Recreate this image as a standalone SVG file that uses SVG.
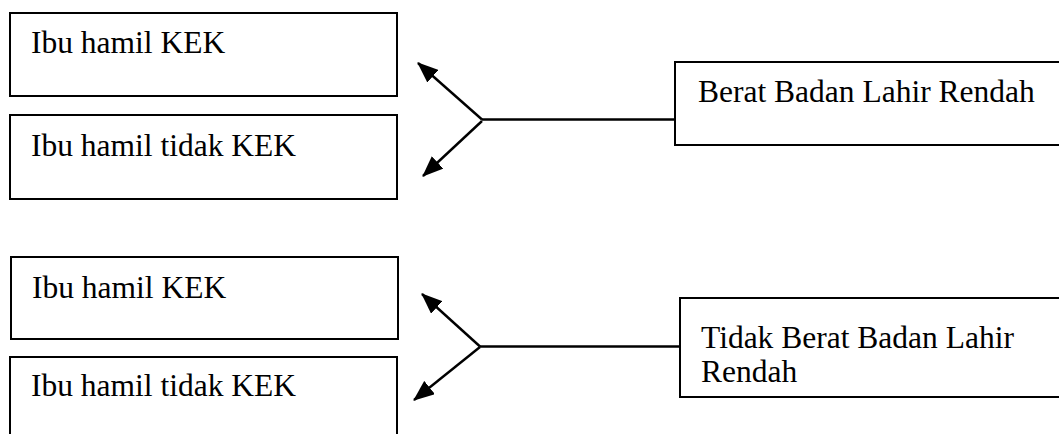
<svg xmlns="http://www.w3.org/2000/svg" width="1059" height="434" viewBox="0 0 1059 434">
<style>
.box{fill:#fff;stroke:#000;stroke-width:2}
.lbl{font-family:"Liberation Serif","Times New Roman",serif;font-size:31.5px;fill:#000}
.con{stroke:#000;stroke-width:2.4;fill:none}
</style>
<defs>
<marker id="ah" viewBox="0 0 10 10" refX="9.5" refY="5" markerWidth="21" markerHeight="17" markerUnits="userSpaceOnUse" orient="auto" preserveAspectRatio="none">
<path d="M0,0 L10,5 L0,10 z" fill="#000"/>
</marker>
</defs>
<rect width="1059" height="434" fill="#fff"/>
<g id="n1"><rect class="box" x="10" y="13" width="387" height="83"/><text class="lbl" x="31" y="53">Ibu hamil KEK</text></g>
<g id="n2"><rect class="box" x="10" y="115" width="387" height="84"/><text class="lbl" x="31" y="156">Ibu hamil tidak KEK</text></g>
<g id="n3"><rect class="box" x="675" y="62" width="395" height="83"/><text class="lbl" x="698" y="102">Berat Badan Lahir Rendah</text></g>
<g id="n4"><rect class="box" x="11" y="257" width="387" height="82"/><text class="lbl" x="32" y="297.5">Ibu hamil KEK</text></g>
<g id="n5"><rect class="box" x="10" y="357" width="387" height="90"/><text class="lbl" x="31" y="396">Ibu hamil tidak KEK</text></g>
<g id="n6"><rect class="box" x="680" y="298" width="390" height="99"/><text class="lbl" x="701" y="348">Tidak Berat Badan Lahir</text><text class="lbl" x="701" y="382">Rendah</text></g>
<g id="connectors">
<line class="con" x1="675" y1="119.5" x2="482" y2="119.5"/>
<line class="con" x1="482" y1="119.5" x2="418" y2="63" marker-end="url(#ah)"/>
<line class="con" x1="482" y1="121" x2="423" y2="176" marker-end="url(#ah)"/>
<line class="con" x1="680" y1="346.5" x2="480" y2="346.5"/>
<line class="con" x1="480" y1="346.5" x2="422" y2="294" marker-end="url(#ah)"/>
<line class="con" x1="480" y1="347" x2="414" y2="400" marker-end="url(#ah)"/>
</g>
</svg>
